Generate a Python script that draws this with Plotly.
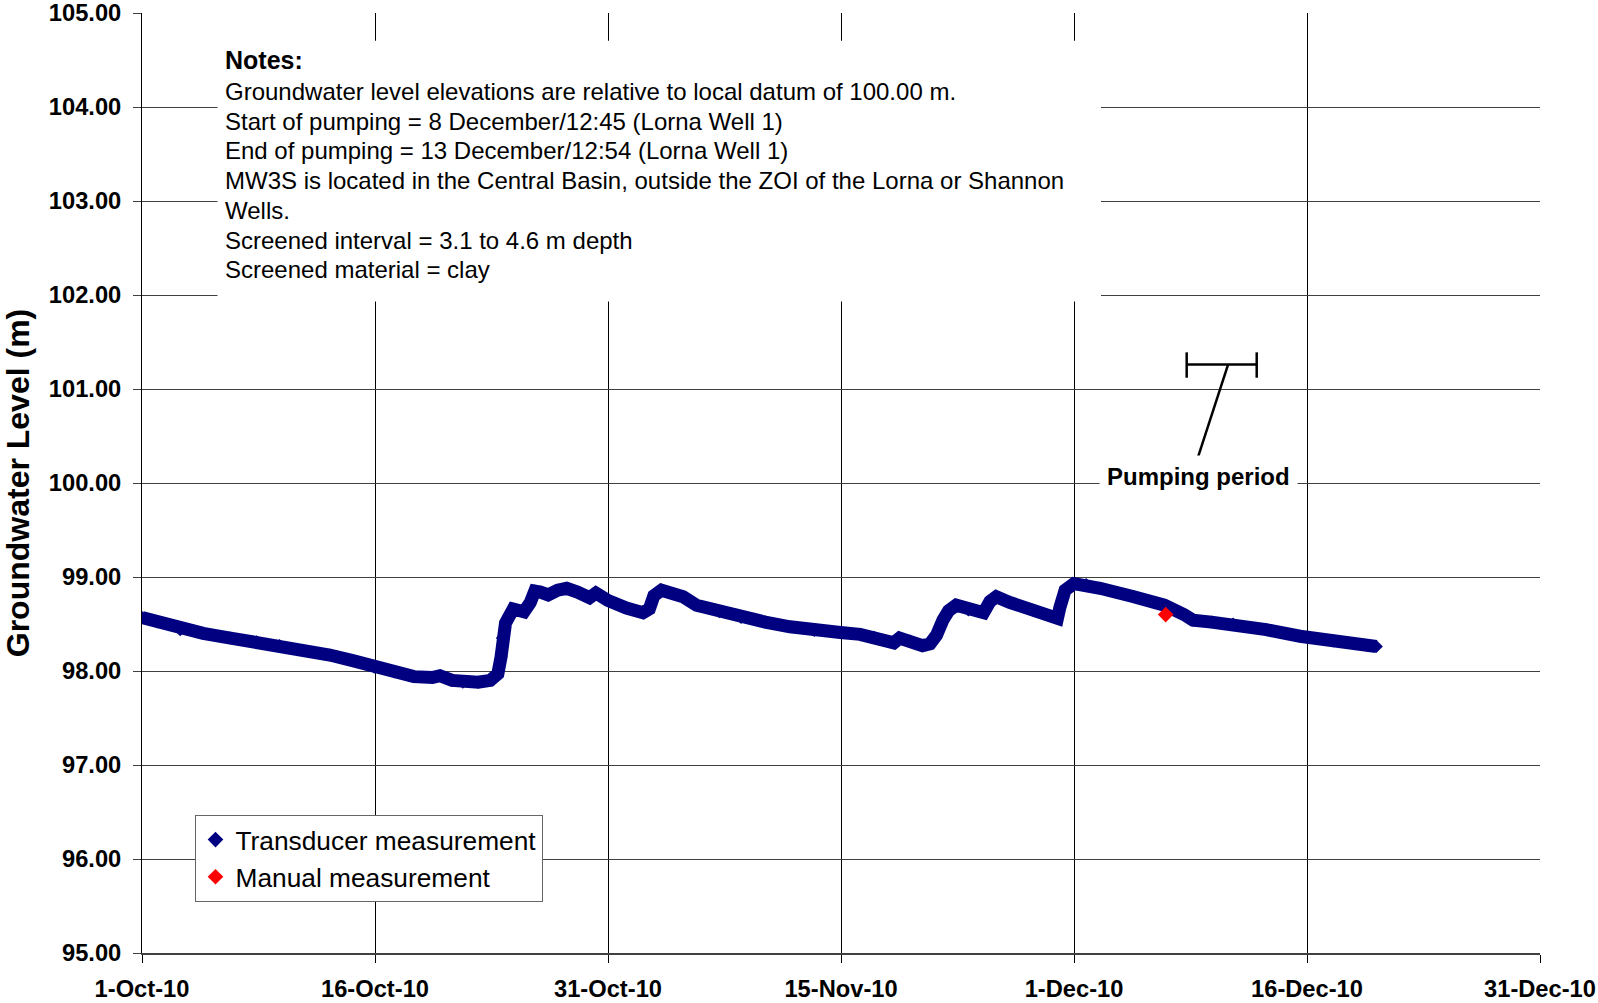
import plotly.graph_objects as go

# ---------------- data ----------------
transducer_time = [
    "2010-10-01 00:00", "2010-10-02 00:00", "2010-10-03 12:00", "2010-10-05 00:00",
    "2010-10-06 19:00", "2010-10-08 12:00", "2010-10-10 00:00", "2010-10-11 12:00",
    "2010-10-13 07:00", "2010-10-14 19:00", "2010-10-16 05:00", "2010-10-17 12:00",
    "2010-10-18 19:00", "2010-10-20 00:00", "2010-10-20 12:00", "2010-10-21 07:00",
    "2010-10-22 00:00", "2010-10-23 00:00", "2010-10-23 19:00", "2010-10-24 07:00",
    "2010-10-24 12:00", "2010-10-24 14:00", "2010-10-24 19:00", "2010-10-25 07:00",
    "2010-10-26 00:00", "2010-10-26 10:00", "2010-10-26 17:00", "2010-10-27 02:00",
    "2010-10-27 14:00", "2010-10-28 05:00", "2010-10-28 19:00", "2010-10-29 12:00",
    "2010-10-30 07:00", "2010-10-30 17:00", "2010-10-31 12:00", "2010-11-01 17:00",
    "2010-11-02 19:00", "2010-11-03 05:00", "2010-11-03 12:00", "2010-11-04 00:00",
    "2010-11-05 10:00", "2010-11-06 07:00", "2010-11-07 19:00", "2010-11-09 05:00",
    "2010-11-10 19:00", "2010-11-12 10:00", "2010-11-14 00:00", "2010-11-15 17:00",
    "2010-11-17 00:00", "2010-11-17 22:00", "2010-11-19 05:00", "2010-11-19 14:00",
    "2010-11-20 07:00", "2010-11-21 02:00", "2010-11-21 14:00", "2010-11-22 00:00",
    "2010-11-22 10:00", "2010-11-22 19:00", "2010-11-23 07:00", "2010-11-24 02:00",
    "2010-11-25 02:00", "2010-11-25 12:00", "2010-11-25 22:00", "2010-11-26 19:00",
    "2010-11-28 07:00", "2010-11-29 12:00", "2010-11-29 22:00", "2010-11-30 02:00",
    "2010-11-30 10:00", "2010-12-01 00:00", "2010-12-01 19:00", "2010-12-02 17:00",
    "2010-12-04 22:00", "2010-12-06 22:00", "2010-12-08 05:00", "2010-12-08 19:00",
    "2010-12-10 00:00", "2010-12-11 10:00", "2010-12-13 14:00", "2010-12-15 19:00",
    "2010-12-18 00:00", "2010-12-20 05:00", "2010-12-20 19:00",
]
transducer_level = [
    98.57, 98.52, 98.44, 98.40,
    98.35, 98.31, 98.27, 98.22,
    98.17, 98.11, 98.04, 97.99,
    97.94, 97.93, 97.95, 97.90,
    97.88, 97.88, 97.90, 97.97,
    98.15, 98.35, 98.51, 98.66,
    98.63, 98.73, 98.85, 98.84,
    98.81, 98.86, 98.88, 98.84,
    98.78, 98.83, 98.75, 98.67,
    98.62, 98.66, 98.80, 98.86,
    98.79, 98.70, 98.63, 98.57,
    98.52, 98.47, 98.43, 98.41,
    98.39, 98.36, 98.30, 98.35,
    98.32, 98.27, 98.29, 98.38,
    98.54, 98.64, 98.70, 98.65,
    98.62, 98.74, 98.79, 98.73,
    98.65, 98.58, 98.56, 98.68,
    98.86, 98.93, 98.92, 98.88,
    98.79, 98.70, 98.60, 98.54,
    98.52, 98.50, 98.44, 98.37,
    98.32, 98.27, 98.26,
]
manual_time = ["2010-12-07 00:00"]
manual_level = [98.60]

x_tick_vals = ["2010-10-01 00:00", "2010-10-16 06:00", "2010-10-31 12:00",
               "2010-11-15 18:00", "2010-12-01 00:00", "2010-12-16 06:00",
               "2010-12-31 12:00"]
x_tick_text = ["1-Oct-10", "16-Oct-10", "31-Oct-10", "15-Nov-10",
               "1-Dec-10", "16-Dec-10", "31-Dec-10"]
y_tick_vals = [95, 96, 97, 98, 99, 100, 101, 102, 103, 104, 105]
y_tick_text = ["95.00", "96.00", "97.00", "98.00", "99.00", "100.00",
               "101.00", "102.00", "103.00", "104.00", "105.00"]

notes_title = "Notes:"
notes_lines = [
    "Groundwater level elevations are relative to local datum of 100.00 m.",
    "Start of pumping = 8 December/12:45 (Lorna Well 1)",
    "End of pumping = 13 December/12:54 (Lorna Well 1)",
    "MW3S is located in the Central Basin, outside the ZOI of the Lorna or Shannon",
    "Wells.",
    "Screened interval = 3.1 to 4.6 m depth",
    "Screened material = clay",
]
pumping_label = "Pumping period"
pump_bar_start = "2010-12-08 09:00"
pump_bar_end = "2010-12-12 23:00"
pump_bar_level = 101.26
pump_leader_top = "2010-12-11 02:00"
pump_leader_bottom = "2010-12-09 02:00"
pump_leader_bottom_level = 100.26

# ---------------- layout helpers ----------------
W, H = 1598, 1003
ML, MR, MT, MB = 142, 58, 13, 50
PW, PH = W - ML - MR, H - MT - MB
FONT = "Liberation Sans, Arial, sans-serif"


def px_x(px):
    return (px - ML) / PW


def px_y(py):
    return (H - MB - py) / PH


NAVY = "#000080"

fig = go.Figure()
fig.add_trace(go.Scatter(
    x=transducer_time, y=transducer_level, mode="lines",
    line=dict(color=NAVY, width=13), showlegend=False,
    legendgroup="t", hoverinfo="skip"))
fig.add_trace(go.Scatter(
    x=transducer_time, y=transducer_level, mode="markers",
    marker=dict(symbol="diamond", color=NAVY, size=10),
    name="Transducer measurement", legendgroup="t"))
fig.add_trace(go.Scatter(
    x=manual_time, y=manual_level, mode="markers",
    marker=dict(symbol="diamond", color="#FF0000", size=12),
    name="Manual measurement", legendgroup="m"))

shapes = []
# white notes box (covers gridlines)
shapes.append(dict(type="rect", xref="paper", yref="paper",
                   x0=px_x(217.5), x1=px_x(1101), y0=px_y(301.5), y1=px_y(40.7),
                   fillcolor="white", line=dict(width=0), layer="above"))
# pumping period bar
shapes.append(dict(type="line", xref="x", yref="y", x0=pump_bar_start, x1=pump_bar_end,
                   y0=pump_bar_level, y1=pump_bar_level, line=dict(color="black", width=2.5)))
for xv in (pump_bar_start, pump_bar_end):
    shapes.append(dict(type="line", xref="x", yref="y", x0=xv, x1=xv,
                       y0=pump_bar_level - 0.14, y1=pump_bar_level + 0.13,
                       line=dict(color="black", width=2.5)))
shapes.append(dict(type="line", xref="x", yref="y", x0=pump_leader_top, x1=pump_leader_bottom,
                   y0=pump_bar_level, y1=pump_leader_bottom_level,
                   line=dict(color="black", width=2.5)))

annotations = []
annotations.append(dict(xref="paper", yref="paper", x=px_x(223), y=px_y(59.5),
                        text=notes_title, showarrow=False, xanchor="left", yanchor="middle",
                        font=dict(family=FONT, size=25, color="black", weight="bold")))
for i, line in enumerate(notes_lines):
    annotations.append(dict(xref="paper", yref="paper", x=px_x(223), y=px_y(91.5 + 29.7 * i),
                            text=line, showarrow=False, xanchor="left", yanchor="middle",
                            font=dict(family=FONT, size=24, color="black")))
annotations.append(dict(xref="paper", yref="paper", x=px_x(1198), y=px_y(476),
                        text=pumping_label, showarrow=False, xanchor="center", yanchor="middle",
                        bgcolor="white", borderpad=7,
                        font=dict(family=FONT, size=24, color="black", weight="bold")))

fig.update_layout(
    width=W, height=H,
    margin=dict(l=ML, r=MR, t=MT, b=MB, autoexpand=False),
    paper_bgcolor="white", plot_bgcolor="white",
    font=dict(family=FONT, color="black"),
    shapes=shapes, annotations=annotations,
    legend=dict(x=px_x(194.5), y=px_y(815), xanchor="left", yanchor="top",
                bgcolor="white", bordercolor="#666666", borderwidth=1,
                font=dict(family=FONT, size=26.3, color="black"),
                traceorder="grouped", tracegroupgap=0, itemsizing="constant"),
    xaxis=dict(type="date", range=[x_tick_vals[0], x_tick_vals[-1]],
               tickmode="array", tickvals=x_tick_vals, ticktext=x_tick_text,
               showgrid=True, gridcolor="#000000", gridwidth=1,
               showline=True, linecolor="#404040", linewidth=2,
               ticks="outside", ticklen=8, tickcolor="#000000",
               tickfont=dict(family=FONT, size=23.7, color="black", weight="bold"),
               ticklabelstandoff=6, zeroline=False),
    yaxis=dict(range=[95, 105], tickmode="array", tickvals=y_tick_vals, ticktext=y_tick_text,
               showgrid=True, gridcolor="#404040", gridwidth=1,
               showline=True, linecolor="#000000", linewidth=1,
               ticks="outside", ticklen=8, tickcolor="#404040",
               tickfont=dict(family=FONT, size=23.7, color="black", weight="bold"),
               ticklabelstandoff=7, zeroline=False,
               title=dict(text="Groundwater Level (m)", standoff=23,
                          font=dict(family=FONT, size=32, color="black", weight="bold"))),
)

fig.write_html("out.html", config={"displayModeBar": False},
               post_script="document.body.style.margin='0px';")
